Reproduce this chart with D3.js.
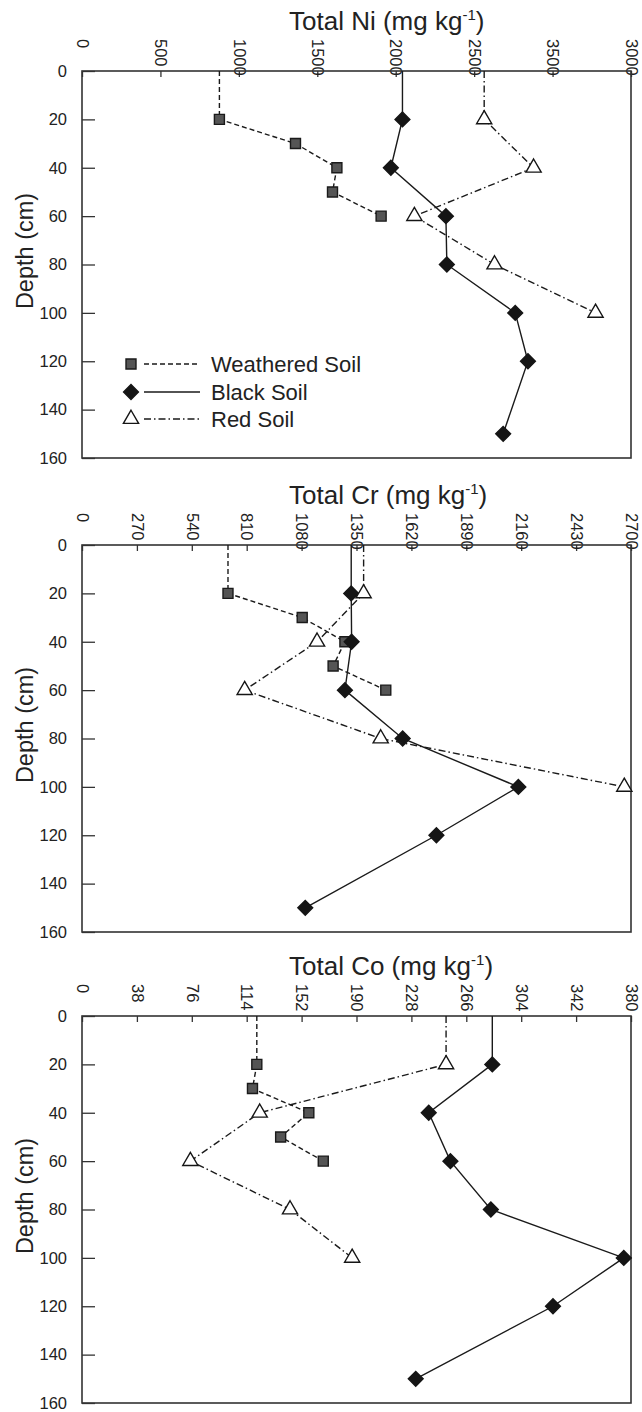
<!DOCTYPE html>
<html lang="en">
<head>
<meta charset="utf-8">
<title>Total Ni, Cr and Co with depth</title>
<script src="https://d3js.org/d3.v7.min.js"></script>
<style>
    body { margin: 0; background-color: white; }
    svg { display: block; background-color: white; }
    text { font-family: "Liberation Sans", Arial, sans-serif; fill: #222; }
</style>
</head>
<body>
<div id="chart_div"></div>
<script>
"use strict";

// sample depths in cm; the first entry is the surface (line only, no marker)
var weatheredDepth = [0, 20, 30, 40, 50, 60];
var blackDepth = [0, 20, 40, 60, 80, 100, 120, 150];
var redDepth = [0, 20, 40, 60, 80, 100];

var weatheredNi = [876, 876, 1361, 1625, 1597, 1907];
var blackNi = [2043, 2043, 1969, 2320, 2326, 2762, 2843, 2685];
var redNi = [2564, 2564, 2879, 2119, 2630, 3274];

var weatheredCr = [718, 718, 1083, 1293, 1235, 1494];
var blackCr = [1324, 1324, 1326, 1293, 1577, 2146, 1743, 1098];
var redCr = [1385, 1385, 1156, 800, 1469, 2667];

var weatheredCo = [121, 121, 118, 157, 137.5, 167];
var blackCo = [284, 284, 240, 255, 283, 375, 326, 231];
var redCo = [252, 252, 123, 75, 144, 187];

var niTicks = [0, 500, 1000, 1500, 2000, 2500, 3000, 3500];
var niTickLabels = ["0", "500", "1000", "1500", "2000", "2500", "3500", "3000"];
var crTicks = [0, 270, 540, 810, 1080, 1350, 1620, 1890, 2160, 2430, 2700];
var coTicks = [0, 38, 76, 114, 152, 190, 228, 266, 304, 342, 380];
var depthTicks = [0, 20, 40, 60, 80, 100, 120, 140, 160];

var seriesNames = ["Weathered Soil", "Black Soil", "Red Soil"];

var svg_width = 642;
var svg_height = 1412;
var left = 82;
var right = 631;
var panel_height = 387;

var styles = [
    {dash: "5,3", shape: "square", fill: "#555", stroke: "#1a1a1a", size: 100, rot: 0},
    {dash: null, shape: "diamond", fill: "#151515", stroke: "#151515", size: 110, rot: 45},
    {dash: "7,3,1.5,3", shape: "triangle", fill: "white", stroke: "#151515", size: 100, rot: 0}
];

var panels = [
    {name: "Ni", top: 71, ticks: niTicks, labels: niTickLabels,
        series: [[weatheredDepth, weatheredNi], [blackDepth, blackNi], [redDepth, redNi]], legend: true},
    {name: "Cr", top: 545, ticks: crTicks, labels: crTicks.map(String),
        series: [[weatheredDepth, weatheredCr], [blackDepth, blackCr], [redDepth, redCr]], legend: false},
    {name: "Co", top: 1016, ticks: coTicks, labels: coTicks.map(String),
        series: [[weatheredDepth, weatheredCo], [blackDepth, blackCo], [redDepth, redCo]], legend: false}
];

var chart_svg = d3.select("#chart_div")
    .append("svg")
    .attr("width", svg_width)
    .attr("height", svg_height);

function symbolFor(s)
{
    var type = d3.symbolSquare;
    if(s.shape == "triangle")
    {
        type = d3.symbolTriangle;
    }
    return d3.symbol().type(type).size(s.size)();
}

function drawPanel(p)
{
    var g = chart_svg.append("g").attr("transform", "translate(0," + p.top + ")");

    var xscale = d3.scaleLinear()
        .domain([p.ticks[0], p.ticks[p.ticks.length - 1]])
        .range([left, right]);
    var yscale = d3.scaleLinear()
        .domain([0, 160])
        .range([0, panel_height]);

    // title with superscript
    var title = g.append("text")
        .attr("x", 289)
        .attr("y", -41)
        .style("font-size", "26px");
    title.append("tspan").text("Total " + p.name + " (mg kg");
    title.append("tspan").attr("dy", -10).style("font-size", "15px").text("-1");
    title.append("tspan").attr("dy", 10).text(")");

    // top axis, ticks inside, labels turned
    var xaxis = d3.axisTop(xscale)
        .tickValues(p.ticks)
        .tickFormat(function(d, i) { return p.labels[i]; })
        .tickSizeInner(-6)
        .tickSizeOuter(0);
    var xg = g.append("g").call(xaxis);
    xg.select(".domain").remove();
    xg.selectAll(".tick line").attr("stroke", "#333").attr("stroke-width", 1.3);
    xg.selectAll(".tick text")
        .attr("transform", "rotate(90)")
        .attr("x", -32)
        .attr("y", 0)
        .attr("dy", "0.35em")
        .attr("text-anchor", "start")
        .style("font-size", "16.5px")
        .style("font-family", "'Liberation Sans', Arial, sans-serif")
        .attr("fill", "#222");

    var yaxis = d3.axisLeft(yscale)
        .tickValues(depthTicks)
        .tickSizeInner(-13)
        .tickSizeOuter(0)
        .tickPadding(15);
    var yg = g.append("g").attr("transform", "translate(" + left + ",0)").call(yaxis);
    yg.select(".domain").remove();
    yg.selectAll(".tick line").attr("stroke", "#333").attr("stroke-width", 1.3);
    yg.selectAll(".tick text")
        .style("font-size", "16.5px")
        .style("font-family", "'Liberation Sans', Arial, sans-serif")
        .attr("fill", "#222");

    g.append("rect")
        .attr("x", left)
        .attr("y", 0)
        .attr("width", right - left)
        .attr("height", panel_height)
        .attr("fill", "none")
        .attr("stroke", "#333")
        .attr("stroke-width", 1.6);

    g.append("text")
        .attr("transform", "translate(33," + 180 + ") rotate(-90)")
        .attr("text-anchor", "middle")
        .style("font-size", "23.5px")
        .text("Depth (cm)");

    p.series.forEach(function(ser, si)
    {
        var st = styles[si];
        var pts = ser[0].map(function(dep, i) { return [ser[1][i], dep]; });
        var line = d3.line()
            .x(function(d) { return xscale(d[0]); })
            .y(function(d) { return yscale(d[1]); });
        g.append("path")
            .datum(pts)
            .attr("d", line)
            .attr("fill", "none")
            .attr("stroke", "#1a1a1a")
            .attr("stroke-width", 1.4)
            .attr("stroke-dasharray", st.dash);
        g.selectAll(null)
            .data(pts.slice(1))
            .enter()
            .append("path")
            .attr("d", symbolFor(st))
            .attr("transform", function(d)
            {
                return "translate(" + xscale(d[0]) + "," + yscale(d[1]) + ") rotate(" + st.rot + ")";
            })
            .attr("fill", st.fill)
            .attr("stroke", st.stroke)
            .attr("stroke-width", 1.4);
    });

    if(p.legend)
    {
        var rows = [293, 321, 348];
        seriesNames.forEach(function(name, si)
        {
            var st = styles[si];
            var lg = g.append("g").attr("transform", "translate(0," + rows[si] + ")");
            lg.append("line")
                .attr("x1", 144).attr("x2", 200)
                .attr("y1", 0).attr("y2", 0)
                .attr("stroke", "#1a1a1a")
                .attr("stroke-width", 1.4)
                .attr("stroke-dasharray", st.dash);
            lg.append("path")
                .attr("d", symbolFor(st))
                .attr("transform", "translate(131,0) rotate(" + st.rot + ")")
                .attr("fill", st.fill)
                .attr("stroke", st.stroke)
                .attr("stroke-width", 1.4);
            lg.append("text")
                .attr("x", 211)
                .attr("y", 0)
                .attr("dy", "0.35em")
                .style("font-size", "22px")
                .text(name);
        });
    }
}

panels.forEach(drawPanel);
</script>
</body>
</html>
